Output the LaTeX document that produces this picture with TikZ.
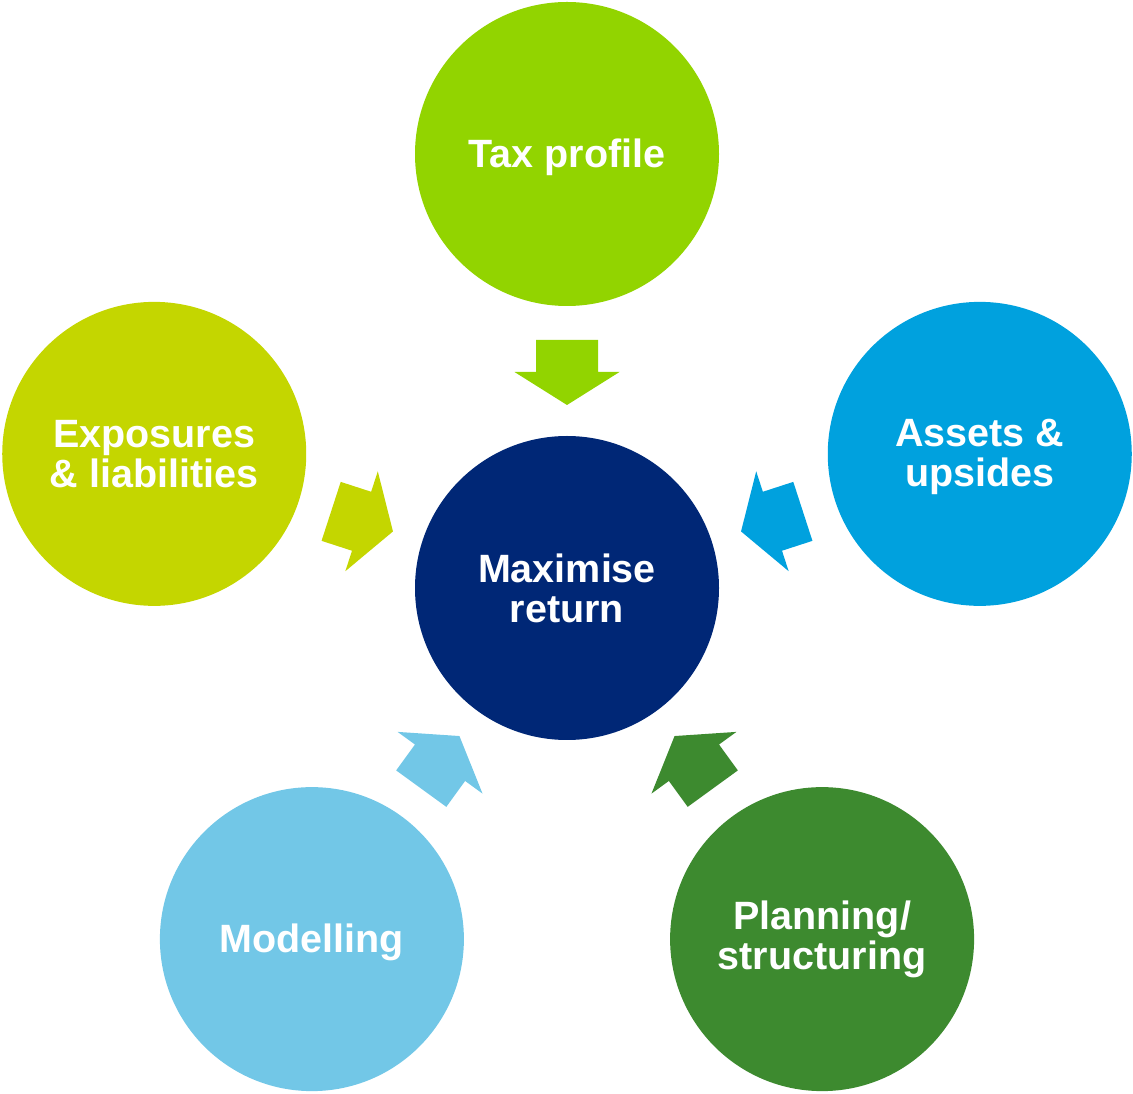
\documentclass[tikz,border=0pt]{standalone}
\usepackage{fontspec}
\setmainfont{Liberation Sans}
\usetikzlibrary{calc}
\definecolor{navy}{HTML}{002776}
\definecolor{taxgreen}{HTML}{92D400}
\definecolor{lime}{HTML}{C4D600}
\definecolor{sky}{HTML}{00A1DE}
\definecolor{lightsky}{HTML}{72C7E7}
\definecolor{darkgreen}{HTML}{3D8A2F}
\newcommand{\dropline}[1]{\raisebox{-3pt}[\height][\depth]{#1}}
\begin{document}
\begin{tikzpicture}[x=1pt,y=1pt,line join=round,
		font=\bfseries\fontsize{39.5}{40}\selectfont,
		bubble/.style={circle,minimum size=304pt,inner sep=0pt,text=white,align=center,fill=#1}]
			\useasboundingbox (0,0) rectangle (1133,1093);
			\node[bubble=navy] (m) at (567,505) {Maximise\\return};
			\node[bubble=taxgreen] (tax) at ($(m)+(90:434)$) {\dropline{Tax profile}};
			\node[bubble=lime] (exp) at ($(m)+(162:434)$) {Exposures\\\& liabilities};
			\node[bubble=sky] (ass) at ($(m)+(18:434)$) {\dropline{Assets \&}\\\dropline{upsides}};
			\node[bubble=lightsky] (mod) at ($(m)+(234:434)$) {\dropline{Modelling}};
			\node[bubble=darkgreen] (plan) at ($(m)+(306:434)$) {Planning/\\structuring};
			% block arrows from each bubble towards the centre
			\foreach \n/\c in {tax/taxgreen,exp/lime,ass/sky,mod/lightsky,plan/darkgreen}
				\fill[\c] ($(m)!248pt!(\n)!31pt!90:(\n)$) -- ($(m)!216pt!(\n)!31pt!90:(\n)$)
					-- ($(m)!216pt!(\n)!52.5pt!90:(\n)$) -- ($(m)!183pt!(\n)$)
					-- ($(m)!216pt!(\n)!52.5pt!-90:(\n)$) -- ($(m)!216pt!(\n)!31pt!-90:(\n)$)
					-- ($(m)!248pt!(\n)!31pt!-90:(\n)$) -- cycle;
		\end{tikzpicture}
\end{document}
